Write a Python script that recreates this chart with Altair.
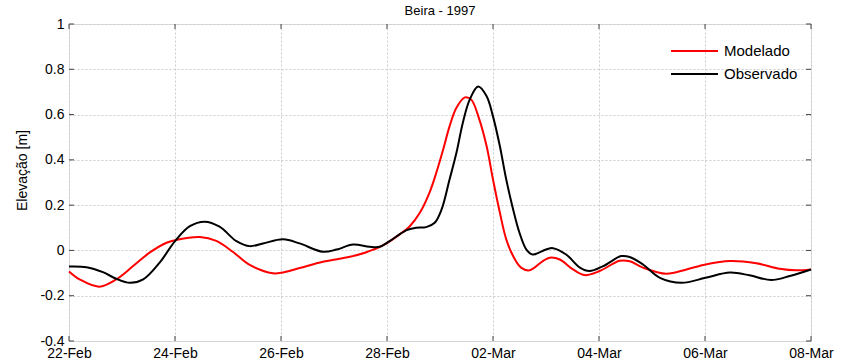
import altair as alt
import pandas as pd

# Days after 1997-02-22 00:00 and elevation (m)
mod_days = [0, 0.2, 0.57, 0.89, 1.21, 1.52, 1.84, 2.0, 2.47, 2.78, 3.09, 3.41, 3.85, 4.0,
            4.35, 4.79, 5.30, 5.61, 5.92, 6.24, 6.43, 6.62, 6.80, 6.93, 7.06, 7.18, 7.31,
            7.47, 7.59, 7.74, 7.88, 8.00, 8.13, 8.25, 8.38, 8.53, 8.69, 8.94, 9.07, 9.26,
            9.51, 9.73, 10.01, 10.39, 10.58, 10.83, 11.27, 11.65, 12.01, 12.47, 12.97,
            13.41, 13.72, 14.0]
mod_vals = [-0.093, -0.128, -0.160, -0.128, -0.069, -0.010, 0.034, 0.045, 0.059, 0.042,
            -0.006, -0.064, -0.101, -0.099, -0.078, -0.050, -0.028, -0.008, 0.022, 0.071,
            0.107, 0.166, 0.254, 0.343, 0.446, 0.548, 0.630, 0.676, 0.666, 0.580, 0.460,
            0.313, 0.166, 0.049, -0.025, -0.076, -0.088, -0.047, -0.032, -0.040, -0.084,
            -0.109, -0.091, -0.046, -0.048, -0.076, -0.103, -0.084, -0.062, -0.047, -0.057,
            -0.081, -0.088, -0.084]

obs_days = [0, 0.33, 0.64, 0.89, 1.15, 1.40, 1.71, 2.0, 2.28, 2.56, 2.84, 3.16, 3.41, 3.66,
            4.04, 4.35, 4.79, 5.05, 5.36, 5.67, 5.86, 6.05, 6.37, 6.55, 6.74, 6.90, 7.03,
            7.18, 7.31, 7.43, 7.56, 7.72, 7.88, 8.00, 8.13, 8.25, 8.38, 8.50, 8.63, 8.75,
            9.0, 9.13, 9.38, 9.64, 9.82, 10.08, 10.42, 10.58, 10.83, 11.15, 11.56, 12.01,
            12.47, 12.84, 13.25, 13.60, 14.0]
obs_vals = [-0.071, -0.074, -0.096, -0.125, -0.143, -0.128, -0.054, 0.041, 0.107, 0.127,
            0.105, 0.041, 0.019, 0.031, 0.049, 0.031, -0.006, 0.004, 0.026, 0.016, 0.016,
            0.041, 0.090, 0.100, 0.103, 0.122, 0.181, 0.313, 0.431, 0.563, 0.666, 0.724,
            0.681, 0.592, 0.460, 0.313, 0.181, 0.078, 0.004, -0.018, 0.004, 0.010, -0.018,
            -0.076, -0.091, -0.069, -0.025, -0.029, -0.062, -0.121, -0.143, -0.121, -0.098,
            -0.110, -0.131, -0.113, -0.084]

series_names = ["Modelado", "Observado"]
series_colors = ["#ff0000", "#000000"]
x_tick_days = [22, 24, 26, 28, 30, 32, 34, 36]  # days counted from 1 Feb 1997
y_ticks = [-0.4, -0.2, 0, 0.2, 0.4, 0.6, 0.8, 1.0]
title_text = "Beira - 1997"
y_title = "Elevação [m]"

base = pd.Timestamp("1997-02-22")
def to_time(days):
    return [(base + pd.to_timedelta(d, unit="D")).strftime("%Y-%m-%dT%H:%M:%S") for d in days]

df = pd.concat([
    pd.DataFrame({"t": to_time(mod_days), "v": mod_vals, "s": series_names[0], "o": range(len(mod_days))}),
    pd.DataFrame({"t": to_time(obs_days), "v": obs_vals, "s": series_names[1], "o": range(len(obs_days))}),
])

feb1 = pd.Timestamp("1997-02-01")
tick_times = [(feb1 + pd.Timedelta(days=d - 1)) for d in x_tick_days]
tick_dt = [alt.DateTime(year=t.year, month=t.month, date=t.day) for t in tick_times]
xt_df = pd.DataFrame({"t": [t.strftime("%Y-%m-%dT%H:%M:%S") for t in tick_times]})
yt_df = pd.DataFrame({"v": y_ticks})

FONT = "Liberation Sans"
W, H = 742, 317

xscale = alt.Scale(domain=[tick_dt[0], tick_dt[-1]], nice=False)
yscale = alt.Scale(domain=[-0.4, 1.0], nice=False, zero=False)
cscale = alt.Scale(domain=series_names, range=series_colors)

lines = alt.Chart(df).mark_line(strokeWidth=2, interpolate="catmull-rom").encode(
    x=alt.X("t:T", scale=xscale, title=None,
            axis=alt.Axis(values=tick_dt, format="%d-%b", labelFontSize=14, labelFont=FONT,
                          labelColor="#000", ticks=False, domain=False, labelPadding=5,
                          labelFlush=False, labelOverlap=False, grid=True,
                          gridDash=[2, 2], gridColor="#cccccc")),
    y=alt.Y("v:Q", scale=yscale, title=y_title,
            axis=alt.Axis(values=y_ticks, labelExpr="toString(round(datum.value*10)/10)",
                          labelFontSize=14, labelFont=FONT, labelColor="#000",
                          ticks=False, domain=False, labelPadding=5, labelOverlap=False,
                          labelFlush=False, grid=True, gridDash=[2, 2], gridColor="#cccccc",
                          titleFont=FONT, titleFontSize=14, titleFontWeight="normal",
                          titleColor="#000", titleX=-40, titleY=146)),
    color=alt.Color("s:N", scale=cscale, legend=None),
    order="o:Q",
)

tick_col = "#444444"
bottom_ticks = alt.Chart(xt_df).mark_rule(color=tick_col).encode(
    x=alt.X("t:T", scale=xscale), y=alt.value(H), y2=alt.value(H - 5))
top_ticks = alt.Chart(xt_df).mark_rule(color=tick_col).encode(
    x=alt.X("t:T", scale=xscale), y=alt.value(0), y2=alt.value(5))
left_ticks = alt.Chart(yt_df).mark_rule(color=tick_col).encode(
    y=alt.Y("v:Q", scale=yscale), x=alt.value(0), x2=alt.value(5))
right_ticks = alt.Chart(yt_df).mark_rule(color=tick_col).encode(
    y=alt.Y("v:Q", scale=yscale), x=alt.value(W), x2=alt.value(W - 5))

# legend drawn as marks (one row per series)
legend_layers = []
for i, name in enumerate(series_names):
    ldf = pd.DataFrame({"s": [name]})
    ypos = 27 + 23 * i
    legend_layers.append(alt.Chart(ldf).mark_rule(strokeWidth=2).encode(
        x=alt.value(602), x2=alt.value(649), y=alt.value(ypos),
        color=alt.Color("s:N", scale=cscale, legend=None)))
    legend_layers.append(alt.Chart(ldf).mark_text(
        align="left", baseline="middle", fontSize=15, font=FONT, color="#000").encode(
        x=alt.value(655), y=alt.value(ypos), text="s:N"))

chart = alt.layer(lines, bottom_ticks, top_ticks, left_ticks, right_ticks,
                  *legend_layers).properties(
    width=W, height=H,
    title=alt.TitleParams(title_text, fontSize=13, fontWeight="normal", font=FONT,
                          color="#000", offset=6, dy=7, anchor="middle"),
    autosize=alt.AutoSizeParams(type="none"),
    padding={"left": 69, "top": 24, "right": 35, "bottom": 22},
).configure_view(stroke="#444444", strokeWidth=1).configure(background="white")

chart.save("out.html", embed_options={"renderer": "svg", "actions": False})
